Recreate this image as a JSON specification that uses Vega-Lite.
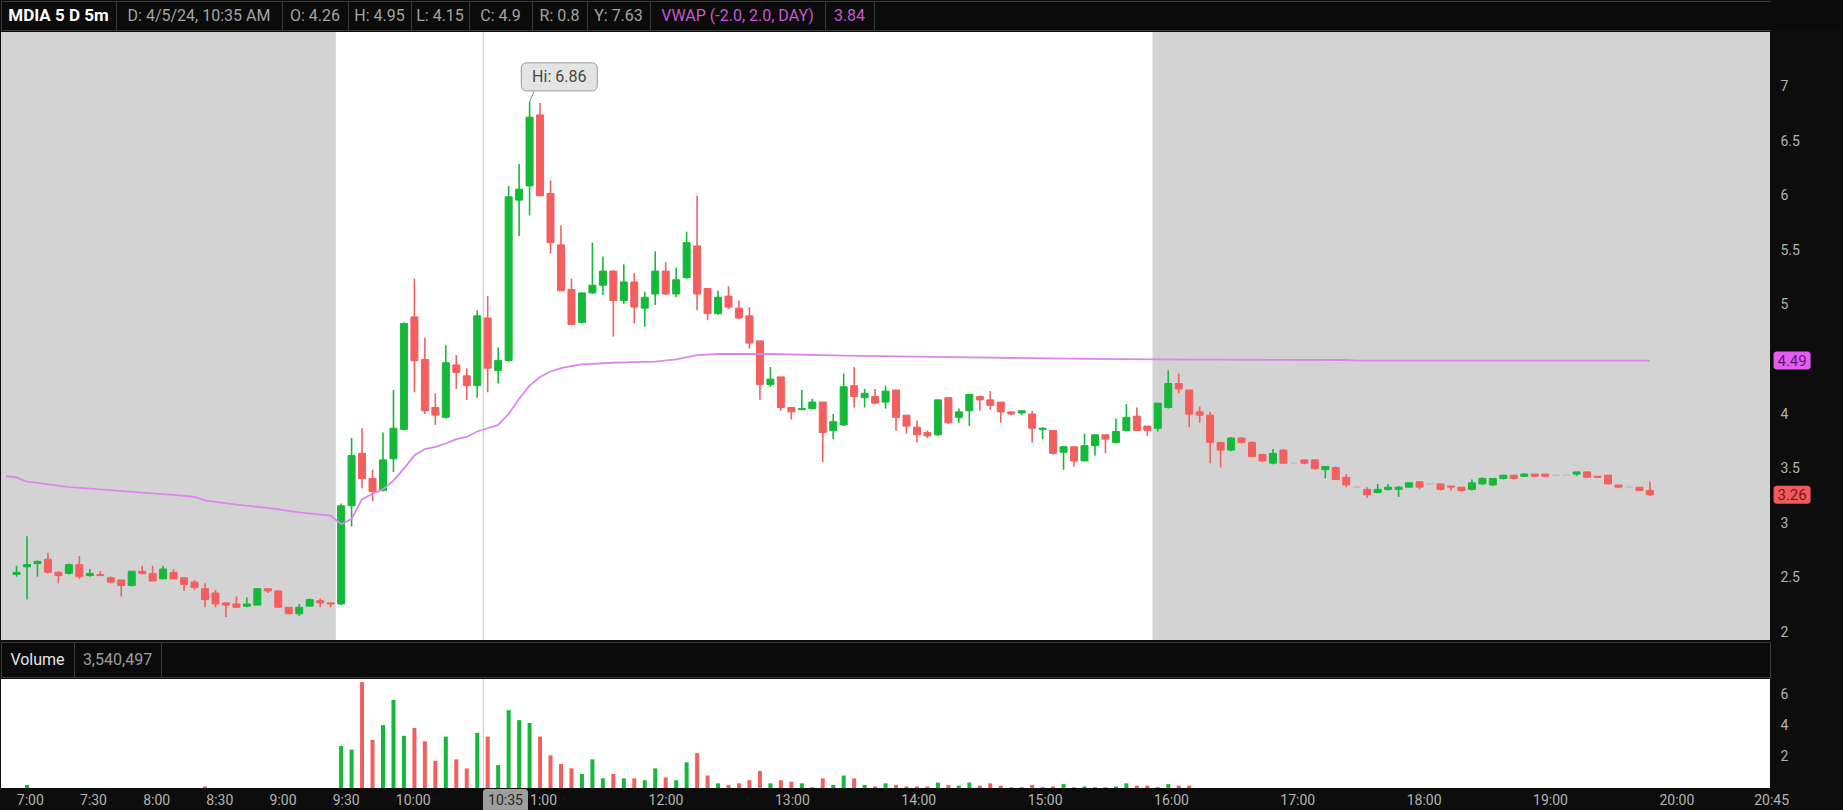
{
"$schema": "https://vega.github.io/schema/vega-lite/v6.json",
"background": "#0d0d0d",
"padding": 0,
"spacing": 0,
"config": {
  "view": {"stroke": null},
  "font": "Roboto",
  "text": {"font": "Roboto"},
  "axis": {"labelFont": "Roboto"}
},
"datasets": {
  "bars": [
    {"t":"2024-04-05T06:55","o":2.53,"h":2.61,"l":2.51,"c":2.55},
    {"t":"2024-04-05T07:00","o":2.60,"h":2.88,"l":2.30,"c":2.62,"v":0.2},
    {"t":"2024-04-05T07:05","o":2.63,"h":2.66,"l":2.51,"c":2.65},
    {"t":"2024-04-05T07:10","o":2.67,"h":2.73,"l":2.54,"c":2.55},
    {"t":"2024-04-05T07:15","o":2.55,"h":2.56,"l":2.45,"c":2.52},
    {"t":"2024-04-05T07:20","o":2.54,"h":2.63,"l":2.53,"c":2.62},
    {"t":"2024-04-05T07:25","o":2.62,"h":2.70,"l":2.49,"c":2.51},
    {"t":"2024-04-05T07:30","o":2.52,"h":2.58,"l":2.51,"c":2.54},
    {"t":"2024-04-05T07:35","o":2.53,"h":2.56,"l":2.52,"c":2.52},
    {"t":"2024-04-05T07:40","o":2.50,"h":2.51,"l":2.45,"c":2.46},
    {"t":"2024-04-05T07:45","o":2.48,"h":2.48,"l":2.33,"c":2.43},
    {"t":"2024-04-05T07:50","o":2.43,"h":2.56,"l":2.42,"c":2.56},
    {"t":"2024-04-05T07:55","o":2.56,"h":2.61,"l":2.53,"c":2.54},
    {"t":"2024-04-05T08:00","o":2.54,"h":2.61,"l":2.47,"c":2.47},
    {"t":"2024-04-05T08:05","o":2.49,"h":2.61,"l":2.49,"c":2.58},
    {"t":"2024-04-05T08:10","o":2.55,"h":2.58,"l":2.49,"c":2.49},
    {"t":"2024-04-05T08:15","o":2.50,"h":2.50,"l":2.38,"c":2.44},
    {"t":"2024-04-05T08:20","o":2.46,"h":2.48,"l":2.39,"c":2.41},
    {"t":"2024-04-05T08:25","o":2.40,"h":2.45,"l":2.23,"c":2.30,"v":0.1},
    {"t":"2024-04-05T08:30","o":2.36,"h":2.39,"l":2.23,"c":2.26},
    {"t":"2024-04-05T08:35","o":2.27,"h":2.27,"l":2.14,"c":2.25},
    {"t":"2024-04-05T08:40","o":2.26,"h":2.33,"l":2.23,"c":2.23},
    {"t":"2024-04-05T08:45","o":2.24,"h":2.32,"l":2.23,"c":2.26},
    {"t":"2024-04-05T08:50","o":2.25,"h":2.40,"l":2.25,"c":2.40},
    {"t":"2024-04-05T08:55","o":2.40,"h":2.40,"l":2.36,"c":2.38},
    {"t":"2024-04-05T09:00","o":2.38,"h":2.38,"l":2.23,"c":2.23},
    {"t":"2024-04-05T09:05","o":2.23,"h":2.23,"l":2.17,"c":2.17},
    {"t":"2024-04-05T09:10","o":2.17,"h":2.26,"l":2.15,"c":2.23},
    {"t":"2024-04-05T09:15","o":2.24,"h":2.31,"l":2.24,"c":2.30},
    {"t":"2024-04-05T09:20","o":2.29,"h":2.31,"l":2.23,"c":2.27},
    {"t":"2024-04-05T09:25","o":2.27,"h":2.27,"l":2.23,"c":2.26},
    {"t":"2024-04-05T09:30","o":2.26,"h":3.18,"l":2.25,"c":3.16,"v":2.7},
    {"t":"2024-04-05T09:35","o":3.16,"h":3.78,"l":2.97,"c":3.62,"v":2.46},
    {"t":"2024-04-05T09:40","o":3.64,"h":3.87,"l":3.32,"c":3.41,"v":6.8},
    {"t":"2024-04-05T09:45","o":3.41,"h":3.49,"l":3.20,"c":3.29,"v":3.1},
    {"t":"2024-04-05T09:50","o":3.30,"h":3.83,"l":3.29,"c":3.58,"v":4.04},
    {"t":"2024-04-05T09:55","o":3.59,"h":4.22,"l":3.47,"c":3.87,"v":5.66},
    {"t":"2024-04-05T10:00","o":3.86,"h":4.84,"l":3.85,"c":4.83,"v":3.35},
    {"t":"2024-04-05T10:05","o":4.89,"h":5.24,"l":4.20,"c":4.49,"v":3.85},
    {"t":"2024-04-05T10:10","o":4.50,"h":4.70,"l":4.00,"c":4.03,"v":3.0},
    {"t":"2024-04-05T10:15","o":4.06,"h":4.19,"l":3.90,"c":3.99,"v":1.75},
    {"t":"2024-04-05T10:20","o":3.97,"h":4.63,"l":3.96,"c":4.47,"v":3.3},
    {"t":"2024-04-05T10:25","o":4.45,"h":4.54,"l":4.23,"c":4.38,"v":1.84},
    {"t":"2024-04-05T10:30","o":4.35,"h":4.42,"l":4.13,"c":4.26,"v":1.26},
    {"t":"2024-04-05T10:35","o":4.26,"h":4.95,"l":4.15,"c":4.90,"v":3.54},
    {"t":"2024-04-05T10:40","o":4.88,"h":5.08,"l":4.20,"c":4.42,"v":3.3},
    {"t":"2024-04-05T10:45","o":4.40,"h":4.61,"l":4.28,"c":4.49,"v":1.47},
    {"t":"2024-04-05T10:50","o":4.49,"h":6.09,"l":4.48,"c":5.99,"v":5.0},
    {"t":"2024-04-05T10:55","o":5.96,"h":6.29,"l":5.63,"c":6.06,"v":4.36},
    {"t":"2024-04-05T11:00","o":6.09,"h":6.86,"l":5.82,"c":6.72,"v":4.17},
    {"t":"2024-04-05T11:05","o":6.74,"h":6.85,"l":6.00,"c":6.00,"v":3.3},
    {"t":"2024-04-05T11:10","o":6.02,"h":6.14,"l":5.47,"c":5.57,"v":2.1},
    {"t":"2024-04-05T11:15","o":5.55,"h":5.73,"l":5.13,"c":5.13,"v":1.54},
    {"t":"2024-04-05T11:20","o":5.14,"h":5.24,"l":4.82,"c":4.82,"v":1.26},
    {"t":"2024-04-05T11:25","o":4.84,"h":5.11,"l":4.83,"c":5.11,"v":0.9},
    {"t":"2024-04-05T11:30","o":5.11,"h":5.57,"l":5.10,"c":5.18,"v":1.84},
    {"t":"2024-04-05T11:35","o":5.18,"h":5.44,"l":5.09,"c":5.31,"v":0.62},
    {"t":"2024-04-05T11:40","o":5.31,"h":5.32,"l":4.71,"c":5.04,"v":0.9},
    {"t":"2024-04-05T11:45","o":5.04,"h":5.37,"l":5.01,"c":5.21,"v":0.62},
    {"t":"2024-04-05T11:50","o":5.21,"h":5.29,"l":4.83,"c":4.98,"v":0.62},
    {"t":"2024-04-05T11:55","o":4.97,"h":5.12,"l":4.80,"c":5.07,"v":0.5},
    {"t":"2024-04-05T12:00","o":5.10,"h":5.49,"l":5.00,"c":5.31,"v":1.26},
    {"t":"2024-04-05T12:05","o":5.31,"h":5.39,"l":5.09,"c":5.10,"v":0.68},
    {"t":"2024-04-05T12:10","o":5.10,"h":5.34,"l":5.07,"c":5.23,"v":0.5},
    {"t":"2024-04-05T12:15","o":5.25,"h":5.67,"l":5.24,"c":5.57,"v":1.65},
    {"t":"2024-04-05T12:20","o":5.54,"h":6.00,"l":4.95,"c":5.10,"v":2.24},
    {"t":"2024-04-05T12:25","o":5.15,"h":5.15,"l":4.86,"c":4.92,"v":0.8},
    {"t":"2024-04-05T12:30","o":4.92,"h":5.13,"l":4.91,"c":5.07,"v":0.3},
    {"t":"2024-04-05T12:35","o":5.08,"h":5.17,"l":4.96,"c":4.98,"v":0.2},
    {"t":"2024-04-05T12:40","o":4.97,"h":5.04,"l":4.87,"c":4.88,"v":0.3},
    {"t":"2024-04-05T12:45","o":4.90,"h":4.98,"l":4.60,"c":4.65,"v":0.5},
    {"t":"2024-04-05T12:50","o":4.67,"h":4.67,"l":4.13,"c":4.27,"v":1.1},
    {"t":"2024-04-05T12:55","o":4.27,"h":4.43,"l":4.25,"c":4.32,"v":0.3},
    {"t":"2024-04-05T13:00","o":4.34,"h":4.34,"l":4.03,"c":4.06,"v":0.5},
    {"t":"2024-04-05T13:05","o":4.06,"h":4.06,"l":3.95,"c":4.02,"v":0.4},
    {"t":"2024-04-05T13:10","o":4.04,"h":4.22,"l":4.04,"c":4.05,"v":0.3},
    {"t":"2024-04-05T13:15","o":4.05,"h":4.14,"l":4.04,"c":4.11,"v":0.05},
    {"t":"2024-04-05T13:20","o":4.11,"h":4.11,"l":3.56,"c":3.83,"v":0.62},
    {"t":"2024-04-05T13:25","o":3.85,"h":4.00,"l":3.77,"c":3.93,"v":0.2},
    {"t":"2024-04-05T13:30","o":3.90,"h":4.37,"l":3.89,"c":4.25,"v":0.8},
    {"t":"2024-04-05T13:35","o":4.26,"h":4.43,"l":4.06,"c":4.16,"v":0.62},
    {"t":"2024-04-05T13:40","o":4.15,"h":4.23,"l":4.06,"c":4.19,"v":0.2},
    {"t":"2024-04-05T13:45","o":4.16,"h":4.23,"l":4.09,"c":4.10,"v":0.1},
    {"t":"2024-04-05T13:50","o":4.11,"h":4.26,"l":4.05,"c":4.21,"v":0.3},
    {"t":"2024-04-05T13:55","o":4.22,"h":4.22,"l":3.85,"c":3.97,"v":0.2},
    {"t":"2024-04-05T14:00","o":3.99,"h":3.99,"l":3.82,"c":3.89,"v":0.1},
    {"t":"2024-04-05T14:05","o":3.88,"h":3.94,"l":3.74,"c":3.81,"v":0.1},
    {"t":"2024-04-05T14:10","o":3.83,"h":3.85,"l":3.78,"c":3.80,"v":0.1},
    {"t":"2024-04-05T14:15","o":3.81,"h":4.13,"l":3.80,"c":4.13,"v":0.35},
    {"t":"2024-04-05T14:20","o":4.15,"h":4.15,"l":3.91,"c":3.92,"v":0.2},
    {"t":"2024-04-05T14:25","o":3.97,"h":4.05,"l":3.92,"c":4.02,"v":0.15},
    {"t":"2024-04-05T14:30","o":4.03,"h":4.18,"l":3.89,"c":4.18,"v":0.35},
    {"t":"2024-04-05T14:35","o":4.16,"h":4.17,"l":4.03,"c":4.13,"v":0.15},
    {"t":"2024-04-05T14:40","o":4.13,"h":4.21,"l":4.04,"c":4.08,"v":0.3},
    {"t":"2024-04-05T14:45","o":4.11,"h":4.11,"l":3.92,"c":4.02,"v":0.15},
    {"t":"2024-04-05T14:50","o":4.02,"h":4.02,"l":3.99,"c":4.00,"v":0.05},
    {"t":"2024-04-05T14:55","o":4.01,"h":4.03,"l":3.99,"c":4.03,"v":0.05},
    {"t":"2024-04-05T15:00","o":4.00,"h":4.03,"l":3.74,"c":3.87,"v":0.2},
    {"t":"2024-04-05T15:05","o":3.86,"h":3.88,"l":3.77,"c":3.87,"v":0.05},
    {"t":"2024-04-05T15:10","o":3.85,"h":3.85,"l":3.63,"c":3.64,"v":0.1},
    {"t":"2024-04-05T15:15","o":3.65,"h":3.71,"l":3.49,"c":3.70,"v":0.25},
    {"t":"2024-04-05T15:20","o":3.70,"h":3.70,"l":3.52,"c":3.57,"v":0.05},
    {"t":"2024-04-05T15:25","o":3.57,"h":3.82,"l":3.57,"c":3.71,"v":0.1},
    {"t":"2024-04-05T15:30","o":3.71,"h":3.81,"l":3.62,"c":3.81,"v":0.05},
    {"t":"2024-04-05T15:35","o":3.81,"h":3.81,"l":3.64,"c":3.77,"v":0.05},
    {"t":"2024-04-05T15:40","o":3.74,"h":3.96,"l":3.73,"c":3.84,"v":0.1},
    {"t":"2024-04-05T15:45","o":3.85,"h":4.09,"l":3.84,"c":3.97,"v":0.3},
    {"t":"2024-04-05T15:50","o":3.98,"h":4.06,"l":3.85,"c":3.85,"v":0.15},
    {"t":"2024-04-05T15:55","o":3.89,"h":3.89,"l":3.80,"c":3.85,"v":0.15},
    {"t":"2024-04-05T16:00","o":3.87,"h":4.10,"l":3.84,"c":4.10,"v":0.05},
    {"t":"2024-04-05T16:05","o":4.06,"h":4.40,"l":4.05,"c":4.28,"v":0.25},
    {"t":"2024-04-05T16:10","o":4.28,"h":4.37,"l":4.19,"c":4.23,"v":0.15},
    {"t":"2024-04-05T16:15","o":4.22,"h":4.22,"l":3.88,"c":4.00,"v":0.15},
    {"t":"2024-04-05T16:20","o":4.02,"h":4.07,"l":3.92,"c":3.99},
    {"t":"2024-04-05T16:25","o":3.99,"h":4.02,"l":3.55,"c":3.74},
    {"t":"2024-04-05T16:30","o":3.74,"h":3.74,"l":3.51,"c":3.67},
    {"t":"2024-04-05T16:35","o":3.67,"h":3.79,"l":3.66,"c":3.78},
    {"t":"2024-04-05T16:40","o":3.78,"h":3.79,"l":3.73,"c":3.74},
    {"t":"2024-04-05T16:45","o":3.74,"h":3.75,"l":3.61,"c":3.61},
    {"t":"2024-04-05T16:50","o":3.63,"h":3.63,"l":3.56,"c":3.57},
    {"t":"2024-04-05T16:55","o":3.55,"h":3.68,"l":3.54,"c":3.64},
    {"t":"2024-04-05T17:00","o":3.67,"h":3.68,"l":3.55,"c":3.55},
    {"t":"2024-04-05T17:05","o":3.55,"h":3.55,"l":3.55,"c":3.55},
    {"t":"2024-04-05T17:10","o":3.58,"h":3.58,"l":3.54,"c":3.55},
    {"t":"2024-04-05T17:15","o":3.58,"h":3.58,"l":3.49,"c":3.50},
    {"t":"2024-04-05T17:20","o":3.49,"h":3.52,"l":3.41,"c":3.52},
    {"t":"2024-04-05T17:25","o":3.51,"h":3.52,"l":3.40,"c":3.40},
    {"t":"2024-04-05T17:30","o":3.42,"h":3.45,"l":3.33,"c":3.35},
    {"t":"2024-04-05T17:35","o":3.33,"h":3.33,"l":3.33,"c":3.33},
    {"t":"2024-04-05T17:40","o":3.31,"h":3.33,"l":3.23,"c":3.26},
    {"t":"2024-04-05T17:45","o":3.28,"h":3.36,"l":3.28,"c":3.31},
    {"t":"2024-04-05T17:50","o":3.31,"h":3.36,"l":3.30,"c":3.33},
    {"t":"2024-04-05T17:55","o":3.31,"h":3.34,"l":3.24,"c":3.33},
    {"t":"2024-04-05T18:00","o":3.33,"h":3.37,"l":3.33,"c":3.37},
    {"t":"2024-04-05T18:05","o":3.38,"h":3.38,"l":3.31,"c":3.33},
    {"t":"2024-04-05T18:10","o":3.36,"h":3.36,"l":3.36,"c":3.36},
    {"t":"2024-04-05T18:15","o":3.36,"h":3.36,"l":3.30,"c":3.31},
    {"t":"2024-04-05T18:20","o":3.34,"h":3.34,"l":3.30,"c":3.33},
    {"t":"2024-04-05T18:25","o":3.33,"h":3.33,"l":3.29,"c":3.30},
    {"t":"2024-04-05T18:30","o":3.31,"h":3.40,"l":3.30,"c":3.37},
    {"t":"2024-04-05T18:35","o":3.36,"h":3.42,"l":3.35,"c":3.41},
    {"t":"2024-04-05T18:40","o":3.35,"h":3.41,"l":3.34,"c":3.41},
    {"t":"2024-04-05T18:45","o":3.41,"h":3.44,"l":3.40,"c":3.44},
    {"t":"2024-04-05T18:50","o":3.44,"h":3.44,"l":3.40,"c":3.41},
    {"t":"2024-04-05T18:55","o":3.43,"h":3.46,"l":3.43,"c":3.45},
    {"t":"2024-04-05T19:00","o":3.45,"h":3.45,"l":3.43,"c":3.43},
    {"t":"2024-04-05T19:05","o":3.45,"h":3.45,"l":3.43,"c":3.43},
    {"t":"2024-04-05T19:10","o":3.44,"h":3.44,"l":3.44,"c":3.44},
    {"t":"2024-04-05T19:15","o":3.44,"h":3.44,"l":3.44,"c":3.44},
    {"t":"2024-04-05T19:20","o":3.45,"h":3.47,"l":3.43,"c":3.47},
    {"t":"2024-04-05T19:25","o":3.47,"h":3.47,"l":3.42,"c":3.42},
    {"t":"2024-04-05T19:30","o":3.43,"h":3.43,"l":3.42,"c":3.42},
    {"t":"2024-04-05T19:35","o":3.44,"h":3.44,"l":3.36,"c":3.36},
    {"t":"2024-04-05T19:40","o":3.35,"h":3.35,"l":3.32,"c":3.33},
    {"t":"2024-04-05T19:45","o":3.33,"h":3.33,"l":3.33,"c":3.33},
    {"t":"2024-04-05T19:50","o":3.33,"h":3.33,"l":3.30,"c":3.30},
    {"t":"2024-04-05T19:55","o":3.30,"h":3.38,"l":3.25,"c":3.26}
  ],
  "vwap": [
    {"t":"2024-04-05T06:50","w":3.43},{"t":"2024-04-05T06:55","w":3.42},{"t":"2024-04-05T07:00","w":3.38},{"t":"2024-04-05T07:05","w":3.37},
    {"t":"2024-04-05T07:20","w":3.33},{"t":"2024-04-05T07:35","w":3.31},{"t":"2024-04-05T07:55","w":3.28},{"t":"2024-04-05T08:10","w":3.26},
    {"t":"2024-04-05T08:20","w":3.24},{"t":"2024-04-05T08:25","w":3.21},{"t":"2024-04-05T08:40","w":3.17},{"t":"2024-04-05T08:55","w":3.14},
    {"t":"2024-04-05T09:10","w":3.10},{"t":"2024-04-05T09:25","w":3.07},{"t":"2024-04-05T09:30","w":2.99},{"t":"2024-04-05T09:35","w":3.04},
    {"t":"2024-04-05T09:40","w":3.22},{"t":"2024-04-05T09:45","w":3.27},{"t":"2024-04-05T09:50","w":3.31},{"t":"2024-04-05T09:55","w":3.39},
    {"t":"2024-04-05T10:00","w":3.50},{"t":"2024-04-05T10:05","w":3.62},{"t":"2024-04-05T10:10","w":3.68},{"t":"2024-04-05T10:15","w":3.70},
    {"t":"2024-04-05T10:20","w":3.73},{"t":"2024-04-05T10:25","w":3.77},{"t":"2024-04-05T10:30","w":3.79},{"t":"2024-04-05T10:35","w":3.84},
    {"t":"2024-04-05T10:40","w":3.87},{"t":"2024-04-05T10:45","w":3.90},{"t":"2024-04-05T10:50","w":4.00},{"t":"2024-04-05T10:55","w":4.14},
    {"t":"2024-04-05T11:00","w":4.26},{"t":"2024-04-05T11:05","w":4.34},{"t":"2024-04-05T11:10","w":4.39},{"t":"2024-04-05T11:15","w":4.42},
    {"t":"2024-04-05T11:20","w":4.44},{"t":"2024-04-05T11:25","w":4.455},{"t":"2024-04-05T11:30","w":4.46},{"t":"2024-04-05T11:40","w":4.47},
    {"t":"2024-04-05T11:50","w":4.475},{"t":"2024-04-05T12:00","w":4.48},{"t":"2024-04-05T12:10","w":4.50},{"t":"2024-04-05T12:20","w":4.54},
    {"t":"2024-04-05T12:30","w":4.55},{"t":"2024-04-05T12:55","w":4.55},{"t":"2024-04-05T13:30","w":4.535},{"t":"2024-04-05T14:30","w":4.52},
    {"t":"2024-04-05T15:25","w":4.505},{"t":"2024-04-05T16:00","w":4.50},{"t":"2024-04-05T17:30","w":4.495},{"t":"2024-04-05T17:35","w":4.49},
    {"t":"2024-04-05T19:55","w":4.49}
  ],
  "sessions": [{"t":"2024-04-05T06:50","t2":"2024-04-05T09:30"},{"t":"2024-04-05T16:00","t2":"2024-04-05T21:00"}],
  "cursor": [{"t":"2024-04-05T10:35"}],
  "hi": [{"t":"2024-04-05T11:00","h":6.86,"label":"Hi: 6.86"}],
  "tags": [{"t":"2024-04-05T19:55","p":4.49,"kind":"vwap"},{"t":"2024-04-05T19:55","p":3.26,"kind":"last"}],
  "ticks": [
    {"t":"2024-04-05T07:00"},{"t":"2024-04-05T07:30"},{"t":"2024-04-05T08:00"},{"t":"2024-04-05T08:30"},{"t":"2024-04-05T09:00"},{"t":"2024-04-05T09:30"},
    {"t":"2024-04-05T10:00"},{"t":"2024-04-05T11:00"},{"t":"2024-04-05T12:00"},{"t":"2024-04-05T13:00"},{"t":"2024-04-05T14:00"},{"t":"2024-04-05T15:00"},
    {"t":"2024-04-05T16:00"},{"t":"2024-04-05T17:00"},{"t":"2024-04-05T18:00"},{"t":"2024-04-05T19:00"},{"t":"2024-04-05T20:00"},{"t":"2024-04-05T20:45"}
  ]
},
"resolve": {"scale": {"x": "independent", "y": "independent"}},
"vconcat": [
  {
    "hconcat": [
      {"width":115,"height":29,"view":{"fill":"#0b0b0b","stroke":"#3a3a3a"},"data":{"values":[{"label":"MDIA 5 D 5m"}]},"mark":{"type":"text","fontSize":17,"fontWeight":"bold","color":"#ffffff"},"encoding":{"text":{"field":"label","type":"nominal"}}},
      {"width":166,"height":29,"view":{"fill":"#0b0b0b","stroke":"#3a3a3a"},"data":{"values":[{"label":"D: 4/5/24, 10:35 AM"}]},"mark":{"type":"text","fontSize":16,"color":"#a3a3a3"},"encoding":{"text":{"field":"label","type":"nominal"}}},
      {"width":66,"height":29,"view":{"fill":"#0b0b0b","stroke":"#3a3a3a"},"data":{"values":[{"label":"O: 4.26"}]},"mark":{"type":"text","fontSize":16,"color":"#a3a3a3"},"encoding":{"text":{"field":"label","type":"nominal"}}},
      {"width":63,"height":29,"view":{"fill":"#0b0b0b","stroke":"#3a3a3a"},"data":{"values":[{"label":"H: 4.95"}]},"mark":{"type":"text","fontSize":16,"color":"#a3a3a3"},"encoding":{"text":{"field":"label","type":"nominal"}}},
      {"width":58,"height":29,"view":{"fill":"#0b0b0b","stroke":"#3a3a3a"},"data":{"values":[{"label":"L: 4.15"}]},"mark":{"type":"text","fontSize":16,"color":"#a3a3a3"},"encoding":{"text":{"field":"label","type":"nominal"}}},
      {"width":63,"height":29,"view":{"fill":"#0b0b0b","stroke":"#3a3a3a"},"data":{"values":[{"label":"C: 4.9"}]},"mark":{"type":"text","fontSize":16,"color":"#a3a3a3"},"encoding":{"text":{"field":"label","type":"nominal"}}},
      {"width":55,"height":29,"view":{"fill":"#0b0b0b","stroke":"#3a3a3a"},"data":{"values":[{"label":"R: 0.8"}]},"mark":{"type":"text","fontSize":16,"color":"#a3a3a3"},"encoding":{"text":{"field":"label","type":"nominal"}}},
      {"width":63,"height":29,"view":{"fill":"#0b0b0b","stroke":"#3a3a3a"},"data":{"values":[{"label":"Y: 7.63"}]},"mark":{"type":"text","fontSize":16,"color":"#a3a3a3"},"encoding":{"text":{"field":"label","type":"nominal"}}},
      {"width":175,"height":29,"view":{"fill":"#0b0b0b","stroke":"#3a3a3a"},"data":{"values":[{"label":"VWAP (-2.0, 2.0, DAY)"}]},"mark":{"type":"text","fontSize":16,"color":"#c957d4"},"encoding":{"text":{"field":"label","type":"nominal"}}},
      {"width":49,"height":29,"view":{"fill":"#0b0b0b","stroke":"#3a3a3a"},"data":{"values":[{"label":"3.84"}]},"mark":{"type":"text","fontSize":16,"color":"#c957d4"},"encoding":{"text":{"field":"label","type":"nominal"}}},
      {"width":896,"height":29,"view":{"fill":"#0b0b0b","stroke":"#3a3a3a"},"data":{"values":[{"label":""}]},"mark":{"type":"text"},"encoding":{"text":{"field":"label","type":"nominal"}}},
      {"width":74,"height":29,"view":{"fill":"#0b0b0b","stroke":null},"data":{"values":[{"label":""}]},"mark":{"type":"text"},"encoding":{"text":{"field":"label","type":"nominal"}}}
    ],
    "spacing": 0,
    "bounds": "flush"
  },
  {
    "width": 1769,
    "height": 608,
    "view": {"fill": "#ffffff", "stroke": null},
    "encoding": {
      "x": {"field":"t","type":"temporal","axis":null,
            "scale":{"domain":[{"year":2024,"month":4,"date":5,"hours":6,"minutes":52,"seconds":30},{"year":2024,"month":4,"date":5,"hours":20,"minutes":52,"seconds":30}]}}
    },
    "layer": [
      {
        "data": {"name":"sessions"},
        "mark": {"type":"rect","color":"#d3d3d3","clip":true},
        "encoding": {"x2":{"field":"t2"}}
      },
      {
        "data": {"name":"cursor"},
        "mark": {"type":"rule","color":"#c4c4c4","strokeWidth":1,"xOffset":11.4},
        "encoding": {}
      },
      {
        "data": {"name":"bars"},
        "mark": {"type":"rule","strokeWidth":1.6,"xOffset":5.3,"clip":true},
        "encoding": {
          "y": {"field":"l","type":"quantitative","scale":{"domain":[1.93,7.5]},
                "axis":{"orient":"right","values":[2,2.5,3,3.5,4,5,5.5,6,6.5,7],"format":"~g","title":null,"grid":false,"domain":false,"ticks":false,"tickSize":0,"labelPadding":10,"labelFontSize":14,"labelColor":"#b3b3b3"}},
          "y2": {"field":"h"},
          "color": {"condition":[{"test":"datum.c == datum.o","value":"#bdbdbd"},{"test":"datum.c > datum.o","value":"#15b93a"}],"value":"#f35f5f"}
        }
      },
      {
        "data": {"name":"bars"},
        "mark": {"type":"bar","size":7,"strokeWidth":1,"xOffset":5.3,"clip":true},
        "encoding": {
          "y": {"field":"o","type":"quantitative","scale":{"domain":[1.93,7.5]},
                "axis":{"orient":"right","values":[2,2.5,3,3.5,4,5,5.5,6,6.5,7],"format":"~g","title":null,"grid":false,"domain":false,"ticks":false,"tickSize":0,"labelPadding":10,"labelFontSize":14,"labelColor":"#b3b3b3"}},
          "y2": {"field":"c"},
          "color": {"condition":[{"test":"datum.c == datum.o","value":"#bdbdbd"},{"test":"datum.c > datum.o","value":"#15b93a"}],"value":"#f35f5f"},
          "stroke": {"condition":[{"test":"datum.c == datum.o","value":"#bdbdbd"},{"test":"datum.c > datum.o","value":"#15b93a"}],"value":"#f35f5f"}
        }
      },
      {
        "data": {"name":"vwap"},
        "mark": {"type":"line","color":"#dc86ec","strokeWidth":1.8,"xOffset":5.3,"clip":true},
        "encoding": {
          "y": {"field":"w","type":"quantitative","scale":{"domain":[1.93,7.5]},
                "axis":{"orient":"right","values":[2,2.5,3,3.5,4,5,5.5,6,6.5,7],"format":"~g","title":null,"grid":false,"domain":false,"ticks":false,"tickSize":0,"labelPadding":10,"labelFontSize":14,"labelColor":"#b3b3b3"}}
        }
      },
      {
        "data": {"name":"hi"},
        "mark": {"type":"rule","color":"#8c8c8c","strokeWidth":1,"xOffset":5.3,"x2Offset":10,"y2Offset":-11},
        "encoding": {
          "x2": {"field":"t"},
          "y": {"field":"h","type":"quantitative","scale":{"domain":[1.93,7.5]},
                "axis":{"orient":"right","values":[2,2.5,3,3.5,4,5,5.5,6,6.5,7],"format":"~g","title":null,"grid":false,"domain":false,"ticks":false,"tickSize":0,"labelPadding":10,"labelFontSize":14,"labelColor":"#b3b3b3"}},
          "y2": {"field":"h"}
        }
      },
      {
        "data": {"name":"hi"},
        "mark": {"type":"rect","fill":"#e4e4e4","stroke":"#9a9a9a","strokeWidth":1,"cornerRadius":5,"xOffset":-3,"x2Offset":73,"yOffset":-39,"y2Offset":-11},
        "encoding": {
          "x2": {"field":"t"},
          "y": {"field":"h","type":"quantitative","scale":{"domain":[1.93,7.5]},
                "axis":{"orient":"right","values":[2,2.5,3,3.5,4,5,5.5,6,6.5,7],"format":"~g","title":null,"grid":false,"domain":false,"ticks":false,"tickSize":0,"labelPadding":10,"labelFontSize":14,"labelColor":"#b3b3b3"}},
          "y2": {"field":"h"}
        }
      },
      {
        "data": {"name":"hi"},
        "mark": {"type":"text","fontSize":16,"color":"#474747","align":"center","baseline":"middle","xOffset":35,"yOffset":-25},
        "encoding": {
          "y": {"field":"h","type":"quantitative","scale":{"domain":[1.93,7.5]},
                "axis":{"orient":"right","values":[2,2.5,3,3.5,4,5,5.5,6,6.5,7],"format":"~g","title":null,"grid":false,"domain":false,"ticks":false,"tickSize":0,"labelPadding":10,"labelFontSize":14,"labelColor":"#b3b3b3"}},
          "text": {"field":"label","type":"nominal"}
        }
      },
      {
        "data": {"name":"tags"},
        "mark": {"type":"rect","cornerRadius":3,"clip":false,"xOffset":129,"x2Offset":166,"yOffset":-9,"y2Offset":9},
        "encoding": {
          "x2": {"field":"t"},
          "y": {"field":"p","type":"quantitative","scale":{"domain":[1.93,7.5]},
                "axis":{"orient":"right","values":[2,2.5,3,3.5,4,5,5.5,6,6.5,7],"format":"~g","title":null,"grid":false,"domain":false,"ticks":false,"tickSize":0,"labelPadding":10,"labelFontSize":14,"labelColor":"#b3b3b3"}},
          "y2": {"field":"p"},
          "color": {"condition":{"test":"datum.kind == 'vwap'","value":"#e45ef2"},"value":"#ef5b5b"}
        }
      },
      {
        "data": {"name":"tags"},
        "mark": {"type":"text","fontSize":15,"align":"center","baseline":"middle","clip":false,"xOffset":147.5},
        "encoding": {
          "y": {"field":"p","type":"quantitative","scale":{"domain":[1.93,7.5]},
                "axis":{"orient":"right","values":[2,2.5,3,3.5,4,5,5.5,6,6.5,7],"format":"~g","title":null,"grid":false,"domain":false,"ticks":false,"tickSize":0,"labelPadding":10,"labelFontSize":14,"labelColor":"#b3b3b3"}},
          "text": {"field":"p","type":"quantitative","format":".2f"},
          "color": {"condition":{"test":"datum.kind == 'vwap'","value":"#5e1a6c"},"value":"#7d1717"}
        }
      }
    ]
  },
  {
    "hconcat": [
      {"width":73,"height":35,"view":{"fill":"#0b0b0b","stroke":"#3a3a3a"},"data":{"values":[{"label":"Volume"}]},"mark":{"type":"text","fontSize":16,"color":"#e6e6e6"},"encoding":{"text":{"field":"label","type":"nominal"}}},
      {"width":87,"height":35,"view":{"fill":"#0b0b0b","stroke":"#3a3a3a"},"data":{"values":[{"label":"3,540,497"}]},"mark":{"type":"text","fontSize":16,"color":"#9d9d9d"},"encoding":{"text":{"field":"label","type":"nominal"}}},
      {"width":1609,"height":35,"view":{"fill":"#0b0b0b","stroke":"#3a3a3a"},"data":{"values":[{"label":""}]},"mark":{"type":"text"},"encoding":{"text":{"field":"label","type":"nominal"}}}
    ],
    "spacing": 0,
    "bounds": "flush"
  },
  {
    "width": 1769,
    "height": 109,
    "view": {"fill": "#ffffff", "stroke": null},
    "encoding": {
      "x": {"field":"t","type":"temporal","axis":null,
            "scale":{"domain":[{"year":2024,"month":4,"date":5,"hours":6,"minutes":52,"seconds":30},{"year":2024,"month":4,"date":5,"hours":20,"minutes":52,"seconds":30}]}}
    },
    "layer": [
      {
        "data": {"name":"cursor"},
        "mark": {"type":"rule","color":"#c4c4c4","strokeWidth":1,"xOffset":11.4},
        "encoding": {}
      },
      {
        "data": {"name":"bars"},
        "mark": {"type":"bar","size":4,"xOffset":5.3,"clip":true},
        "encoding": {
          "y": {"field":"v","type":"quantitative","scale":{"domain":[0,7]},
                "axis":{"orient":"right","values":[2,4,6],"format":"d","title":null,"grid":false,"domain":false,"ticks":false,"tickSize":0,"labelPadding":10,"labelFontSize":14,"labelColor":"#b3b3b3"}},
          "color": {"condition":[{"test":"datum.c == datum.o","value":"#bdbdbd"},{"test":"datum.c > datum.o","value":"#15b93a"}],"value":"#f35f5f"}
        }
      }
    ]
  },
  {
    "width": 1843,
    "height": 24,
    "view": {"fill": "#0d0d0d", "stroke": null},
    "encoding": {
      "x": {"field":"t","type":"temporal","axis":null,
            "scale":{"domain":[{"year":2024,"month":4,"date":5,"hours":6,"minutes":52,"seconds":30},{"year":2024,"month":4,"date":5,"hours":21,"minutes":27,"seconds":38}]}}
    },
    "layer": [
      {
        "data": {"name":"ticks"},
        "mark": {"type":"text","align":"left","baseline":"middle","fontSize":14,"color":"#b3b3b3"},
        "encoding": {"text":{"field":"t","type":"temporal","format":"%-H:%M"}}
      },
      {
        "data": {"name":"cursor"},
        "mark": {"type":"rect","color":"#9e9e9e","cornerRadius":3,"xOffset":13.4,"x2Offset":58.4},
        "encoding": {"x2":{"field":"t"}}
      },
      {
        "data": {"name":"cursor"},
        "mark": {"type":"text","align":"center","baseline":"middle","fontSize":14,"color":"#262626","xOffset":35.9},
        "encoding": {"text":{"field":"t","type":"temporal","format":"%-H:%M"}}
      }
    ]
  }
]
}
